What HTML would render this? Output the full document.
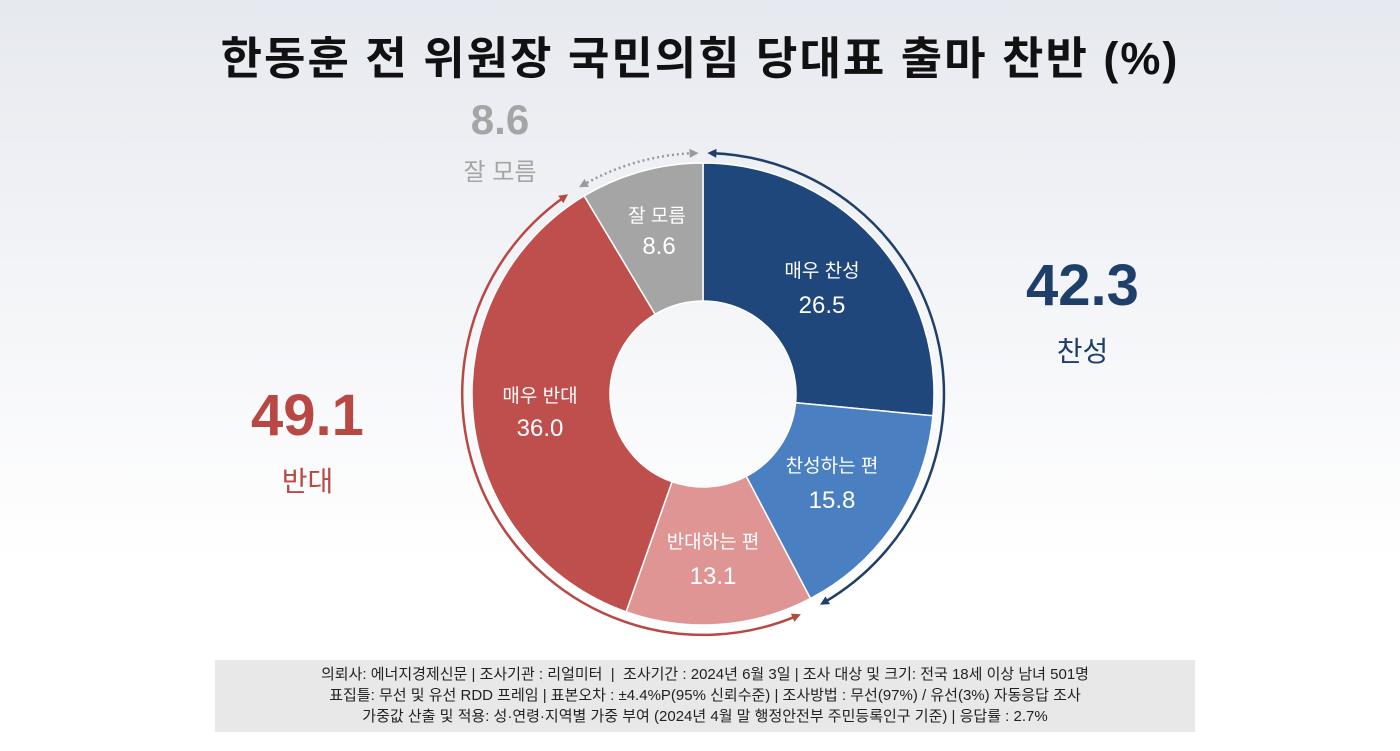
<!DOCTYPE html>
<html><head><meta charset="utf-8"><style>
body{margin:0;width:1400px;height:751px;overflow:hidden;background:linear-gradient(#e6e9ef 0%,#f4f5f8 40%,#ffffff 75%);font-family:"Liberation Sans","Noto Sans CJK KR",sans-serif;position:relative}
.t{position:absolute;white-space:nowrap}
</style></head><body>
<div class="t" style="left:0;width:1400px;text-align:center;top:22px;font-size:45px;font-weight:bold;color:#111;letter-spacing:2px">한동훈 전 위원장 국민의힘 당대표 출마 찬반 (%)</div>
<svg width="1400" height="751" style="position:absolute;left:0;top:0">
<defs>
<marker id="mb" markerWidth="9" markerHeight="9" refX="5" refY="4.5" orient="auto-start-reverse" markerUnits="userSpaceOnUse"><path d="M0,0 L9,4.5 L0,9Z" fill="#1f3f6b"/></marker>
<marker id="mr" markerWidth="9" markerHeight="9" refX="5" refY="4.5" orient="auto-start-reverse" markerUnits="userSpaceOnUse"><path d="M0,0 L9,4.5 L0,9Z" fill="#b84844"/></marker>
<marker id="mg" markerWidth="9" markerHeight="9" refX="5" refY="4.5" orient="auto-start-reverse" markerUnits="userSpaceOnUse"><path d="M0,0 L9,4.5 L0,9Z" fill="#9a9a9a"/></marker>
</defs>
<g stroke="#fff" stroke-width="1.5">
<path d="M703,163 A231,231 0 0 1 932.97,415.74 L795.59,402.75 A93,93 0 0 0 703,301Z" fill="#1f477b"/>
<path d="M932.97,415.74 A231,231 0 0 1 810.44,598.5 L746.25,476.33 A93,93 0 0 0 795.59,402.75Z" fill="#4a7fc1"/>
<path d="M810.44,598.5 A231,231 0 0 1 626.13,611.84 L672.05,481.7 A93,93 0 0 0 746.25,476.33Z" fill="#de9594"/>
<path d="M626.13,611.84 A231,231 0 0 1 584.16,195.91 L655.16,314.25 A93,93 0 0 0 672.05,481.7Z" fill="#bf4f4c"/>
<path d="M584.16,195.91 A231,231 0 0 1 703,163 L703,301 A93,93 0 0 0 655.16,314.25Z" fill="#a5a5a5"/>
</g>
<path d="M711.4,153.15 A241,241 0 0 1 823.5,602.7" fill="none" stroke="#1f3f6b" stroke-width="2.5" marker-start="url(#mb)" marker-end="url(#mb)"/>
<path d="M797.2,615.8 A241,241 0 0 1 564.8,196.6" fill="none" stroke="#b84844" stroke-width="2.5" marker-start="url(#mr)" marker-end="url(#mr)"/>
<path d="M582.5,185.3 A241,241 0 0 1 694.6,153.15" fill="none" stroke="#9a9a9a" stroke-width="2.5" stroke-dasharray="2,3" marker-start="url(#mg)" marker-end="url(#mg)"/>
<g fill="#fff" text-anchor="middle" font-family="Liberation Sans,Noto Sans CJK KR,sans-serif">
<text x="657" y="222" font-size="19">잘 모름</text><text x="659" y="254" font-size="24">8.6</text>
<text x="822" y="277" font-size="19">매우 찬성</text><text x="822" y="313" font-size="24">26.5</text>
<text x="832" y="472" font-size="19">찬성하는 편</text><text x="832" y="508" font-size="24">15.8</text>
<text x="713" y="548" font-size="19">반대하는 편</text><text x="713" y="584" font-size="24">13.1</text>
<text x="540" y="402" font-size="19">매우 반대</text><text x="540" y="436" font-size="24">36.0</text>
</g>
</svg>
<div class="t" style="left:440px;width:120px;text-align:center;top:96px;font-size:42px;font-weight:bold;color:#a5a5a5">8.6</div>
<div class="t" style="left:440px;width:120px;text-align:center;top:152px;font-size:24px;color:#a5a5a5">잘 모름</div>
<div class="t" style="left:1000px;width:165px;text-align:center;top:252px;font-size:58px;font-weight:bold;color:#1f3f6b">42.3</div>
<div class="t" style="left:1000px;width:165px;text-align:center;top:330px;font-size:28px;color:#1f3f6b">찬성</div>
<div class="t" style="left:225px;width:165px;text-align:center;top:382px;font-size:58px;font-weight:bold;color:#b84844">49.1</div>
<div class="t" style="left:225px;width:165px;text-align:center;top:460px;font-size:28px;color:#b84844">반대</div>
<div class="t" style="left:215px;width:980px;top:660px;height:72px;background:#e8e8e8;text-align:center;font-size:15px;line-height:21px;color:#222;padding-top:4px;box-sizing:border-box;white-space:normal">의뢰사: 에너지경제신문 | 조사기관 : 리얼미터 &nbsp;| &nbsp;조사기간 : 2024년 6월 3일 | 조사 대상 및 크기: 전국 18세 이상 남녀 501명<br>표집틀: 무선 및 유선 RDD 프레임 | 표본오차 : ±4.4%P(95% 신뢰수준) | 조사방법 : 무선(97%) / 유선(3%) 자동응답 조사<br>가중값 산출 및 적용: 성·연령·지역별 가중 부여 (2024년 4월 말 행정안전부 주민등록인구 기준) | 응답률 : 2.7%</div>
</body></html>
